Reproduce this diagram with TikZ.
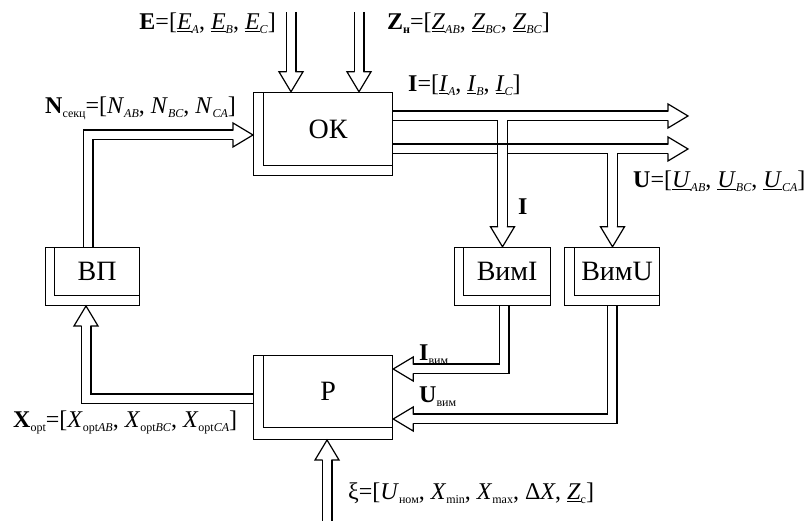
\documentclass[tikz,border=0pt]{standalone}
\usepackage{fontspec}
\setmainfont{Liberation Serif}
\usetikzlibrary{calc}
\newcommand{\vsub}[1]{\raisebox{-4pt}{\fontsize{12}{12}\selectfont #1}}
\newcommand{\ulit}[1]{\underline{\textit{#1}}}
\begin{document}
\begin{tikzpicture}[x=1pt,y=1pt,
 ln/.style={line width=1.2pt, draw=black},
 shaft/.style={draw=black, line width=1.2pt, double=white, double distance=8.6pt, line join=miter},
 outbox/.style={draw, line width=1.2pt, inner sep=0pt, anchor=south west},
 inbox/.style={draw, line width=1.2pt, inner sep=0pt, anchor=north east, font=\fontsize{28}{28}\selectfont},
 lbl/.style={inner sep=0pt, anchor=base west, font=\fontsize{24}{28}\selectfont},
 ahead/.pic={\fill[white] (0,0)--(-20,12)--(-20,-12)--cycle;
   \draw[line width=1.2pt, line join=miter] (-20,4.3)--(-20,12)--(0,0)--(-20,-12)--(-20,-4.3);}
]
\useasboundingbox (0,0) rectangle (808,521);

% box geometry (drawn later, on top of the shafts)
\path node[outbox, draw=none, minimum width=139pt, minimum height=83pt] (ok) at (253,345) {};
\path node[outbox, draw=none, minimum width=94pt, minimum height=58pt] (vp) at (45,215) {};
\path node[outbox, draw=none, minimum width=96pt, minimum height=58pt] (vimI) at (454,215) {};
\path node[outbox, draw=none, minimum width=95pt, minimum height=58pt] (vimU) at (564,215) {};
\path node[outbox, draw=none, minimum width=139pt, minimum height=84pt] (p) at (253,81) {};

% free ends and corners
\coordinate (Etop) at (291,509);
\coordinate (Ztop) at (359,509);
\coordinate (o1) at (688,405);
\coordinate (o2) at (688,372);
\coordinate (bI) at (502.5,400.7);
\coordinate (bU) at (612.5,367.7);
\coordinate (cI) at (504,152);
\coordinate (cU) at (612,102);
\coordinate (cP) at (86,122);
\coordinate (cN) at (88,386);
\coordinate (xi) at (327,0);

% shafts
\draw[shaft] (Etop) -- ($(Etop |- ok.north)+(0,20)$);
\draw[shaft] (Ztop) -- ($(Ztop |- ok.north)+(0,20)$);
\draw[shaft] (ok.east |- o2) -- ($(o2)+(-20,0)$);
\draw[shaft] (ok.east |- o1) -- ($(o1)+(-20,0)$);
\draw[shaft] (bI) -- ($(bI |- vimI.north)+(0,20)$);
\draw[ln] ($(ok.east |- o2)+(0,4.9)$) -- ($(o2)+(-20,4.9)$);
\draw[shaft] (bU) -- ($(bU |- vimU.north)+(0,20)$);
\draw[shaft] (vimI.south -| cI) -- (cI) -- ($(p.east |- cI)+(20,0)$);
\draw[shaft] (vimU.south -| cU) -- (cU) -- ($(p.east |- cU)+(20,0)$);
\draw[shaft] (p.west |- cP) -- (cP) -- ($(cP |- vp.south)+(0,-20)$);
\draw[shaft] (vp.north -| cN) -- (cN) -- ($(ok.west |- cN)+(-20,0)$);
\draw[shaft] (xi) -- ($(xi |- p.south)+(0,-20)$);

% heads
\pic[rotate=-90] at (Etop |- ok.north) {ahead};
\pic[rotate=-90] at (Ztop |- ok.north) {ahead};
\pic at (o1) {ahead};
\pic at (o2) {ahead};
\pic[rotate=-90] at (bI |- vimI.north) {ahead};
\pic[rotate=-90] at (bU |- vimU.north) {ahead};
\pic[rotate=180] at (p.east |- cI) {ahead};
\pic[rotate=180] at (p.east |- cU) {ahead};
\pic[rotate=90] at (cP |- vp.south) {ahead};
\pic at (ok.west |- cN) {ahead};
\pic[rotate=90] at (xi |- p.south) {ahead};

% boxes
\node[outbox, minimum width=139pt, minimum height=83pt] at (ok.south west) {};
\node[inbox, minimum width=129pt, minimum height=73pt] (okI) at (ok.north east) {ОК};
\node[outbox, minimum width=94pt, minimum height=58pt] at (vp.south west) {};
\node[inbox, minimum width=85pt, minimum height=48pt] (vpI) at (vp.north east) {ВП};
\node[outbox, minimum width=96pt, minimum height=58pt] at (vimI.south west) {};
\node[inbox, minimum width=87pt, minimum height=48pt] (vimII) at (vimI.north east) {ВимI};
\node[outbox, minimum width=95pt, minimum height=58pt] at (vimU.south west) {};
\node[inbox, minimum width=85pt, minimum height=48pt] (vimUI) at (vimU.north east) {ВимU};
\node[outbox, minimum width=139pt, minimum height=84pt] at (p.south west) {};
\node[inbox, minimum width=129pt, minimum height=72pt] (pI) at (p.north east) {Р};

% labels
\node[lbl, anchor=base east] (lE) at (276,491) {\textbf{E}=[\ulit{E}\vsub{\textit{A}}, \ulit{E}\vsub{\textit{B}}, \ulit{E}\vsub{\textit{C}}]};
\node[lbl] (lZ) at (387,491) {\textbf{Z}\vsub{\textbf{н}}=[\ulit{Z}\vsub{\textit{AB}}, \ulit{Z}\vsub{\textit{BC}}, \ulit{Z}\vsub{\textit{BC}}]};
\node[lbl] (lI) at (408,429) {\textbf{I}=[\ulit{I}\vsub{\textit{A}}, \ulit{I}\vsub{\textit{B}}, \ulit{I}\vsub{\textit{C}}]};
\node[lbl] (lN) at (45,407) {\textbf{N}\vsub{секц}=[\textit{N}\vsub{\textit{AB}}, \textit{N}\vsub{\textit{BC}}, \textit{N}\vsub{\textit{CA}}]};
\node[lbl] (lU) at (633,333) {\textbf{U}=[\ulit{U}\vsub{\textit{AB}}, \ulit{U}\vsub{\textit{BC}}, \ulit{U}\vsub{\textit{CA}}]};
\node[lbl] (lIb) at (518,306) {\textbf{I}};
\node[lbl] (lIv) at (419,160) {\textbf{I}\vsub{вим}};
\node[lbl] (lUv) at (419,118) {\textbf{U}\vsub{вим}};
\node[lbl] (lX) at (13,93) {\textbf{X}\vsub{opt}=[\textit{X}\vsub{opt\textit{AB}}, \textit{X}\vsub{opt\textit{BC}}, \textit{X}\vsub{opt\textit{CA}}]};
\node[lbl] (lxi) at (348,21) {ξ=[\textit{U}\vsub{ном}, \textit{X}\vsub{min}, \textit{X}\vsub{max}, Δ\textit{X}, \ulit{Z}\vsub{c}]};
\end{tikzpicture}
\end{document}
